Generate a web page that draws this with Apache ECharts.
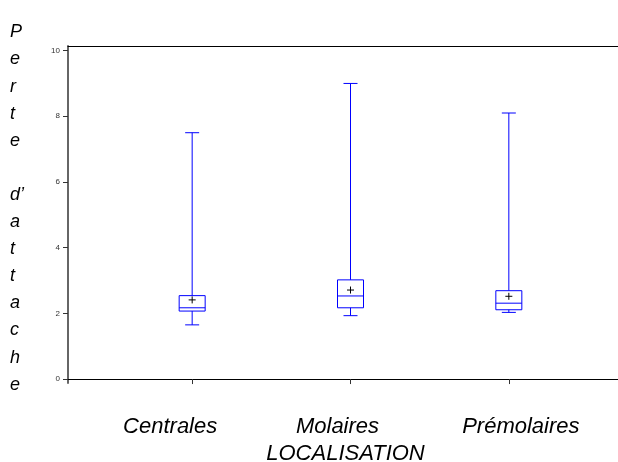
<!DOCTYPE html>
<html>
<head>
<meta charset="utf-8">
<script src="https://cdn.jsdelivr.net/npm/echarts@6/dist/echarts.min.js"></script>
<style>
  html, body { margin: 0; padding: 0; background: #fff; }
  #chart { width: 618px; height: 462px; }
</style>
</head>
<body>
<div id="chart"></div>
<script>
// box statistics, one value per localisation
var categories = ['Centrales', 'Molaires', 'Prémolaires'];
var lowWhisker = [1.65, 1.93, 2.03];
var q1 = [2.07, 2.17, 2.11];
var median = [2.17, 2.53, 2.31];
var q3 = [2.54, 3.02, 2.69];
var highWhisker = [7.5, 9.0, 8.1];
var means = [2.41, 2.71, 2.52];
var yTicks = [0, 2, 4, 6, 8, 10];

var boxData = [];
for (var i = 0; i < categories.length; i++) {
    boxData.push([i, lowWhisker[i], q1[i], median[i], q3[i], highWhisker[i], means[i]]);
}

var FONT = '"Liberation Sans", Arial, sans-serif';
var BLUE = '#0000ff';
// label shifts so the category names sit where the original put them
var labelPad = [[0, 44, 0, 0], [0, 26, 0, 0], [0, 0, 0, 24]];

function renderBox(params, api) {
    var idx = api.value(0);
    var x = api.coord([idx, api.value(3)])[0];
    var yLow = api.coord([idx, api.value(1)])[1];
    var yQ1 = api.coord([idx, api.value(2)])[1];
    var yMed = api.coord([idx, api.value(3)])[1];
    var yQ3 = api.coord([idx, api.value(4)])[1];
    var yHigh = api.coord([idx, api.value(5)])[1];
    var yMean = api.coord([idx, api.value(6)])[1];
    var hw = 13, cw = 7, pw = 3.5;
    var line = { stroke: BLUE, lineWidth: 1, fill: null };
    return {
        type: 'group',
        children: [
            { type: 'rect', shape: { x: x - hw, y: yQ3, width: hw * 2, height: yQ1 - yQ3 }, style: line },
            { type: 'line', shape: { x1: x - hw, y1: yMed, x2: x + hw, y2: yMed }, style: line },
            { type: 'line', shape: { x1: x, y1: yQ3, x2: x, y2: yHigh }, style: line },
            { type: 'line', shape: { x1: x, y1: yQ1, x2: x, y2: yLow }, style: line },
            { type: 'line', shape: { x1: x - cw, y1: yHigh, x2: x + cw, y2: yHigh }, style: line },
            { type: 'line', shape: { x1: x - cw, y1: yLow, x2: x + cw, y2: yLow }, style: line },
            { type: 'line', shape: { x1: x - pw, y1: yMean, x2: x + pw, y2: yMean }, style: { stroke: '#000', lineWidth: 1 } },
            { type: 'line', shape: { x1: x, y1: yMean - pw, x2: x, y2: yMean + pw }, style: { stroke: '#000', lineWidth: 1 } }
        ]
    };
}

var catText = { fontFamily: FONT, fontStyle: 'italic', fontSize: 22, color: '#000' };

var chart = echarts.init(document.getElementById('chart'));
var option = {
    animation: false,
    backgroundColor: '#fff',
    grid: [
        { left: 68, right: 0, top: 46, bottom: 79, containLabel: false, outerBoundsMode: 'none' },
        { left: 113, right: 30, top: 46, bottom: 79, containLabel: false, outerBoundsMode: 'none' }
    ],
    xAxis: [
        {
            gridIndex: 0, type: 'value', min: 0, max: 1, position: 'bottom',
            axisLine: { show: true, lineStyle: { color: '#000', width: 1 } },
            axisTick: { show: false }, axisLabel: { show: false }, splitLine: { show: false }
        },
        {
            gridIndex: 0, type: 'value', min: 0, max: 1, position: 'top',
            axisLine: { show: true, lineStyle: { color: '#000', width: 1 } },
            axisTick: { show: false }, axisLabel: { show: false }, splitLine: { show: false }
        },
        {
            gridIndex: 1, type: 'category', data: categories, position: 'bottom',
            axisLine: { show: false },
            axisTick: { show: true, interval: 0, alignWithLabel: true, length: 5, lineStyle: { color: '#333' } },
            axisLabel: {
                interval: 0, hideOverlap: false, margin: 33,
                fontFamily: FONT, fontStyle: 'italic', fontSize: 22, color: '#000',
                formatter: function (v, i) { return '{c' + i + '|' + v + '}'; },
                rich: {
                    c0: Object.assign({ padding: labelPad[0] }, catText),
                    c1: Object.assign({ padding: labelPad[1] }, catText),
                    c2: Object.assign({ padding: labelPad[2] }, catText)
                }
            },
            name: 'LOCALISATION', nameLocation: 'middle', nameGap: 59,
            nameTextStyle: Object.assign({ padding: [0, 10, 0, 0] }, catText)
        }
    ],
    yAxis: [
        {
            gridIndex: 0, type: 'value', min: -0.12, max: 10.14,
            axisLine: { show: true, lineStyle: { color: '#666', width: 2 } },
            axisTick: { show: true, length: 5, customValues: yTicks, lineStyle: { color: '#333' } },
            axisLabel: { customValues: yTicks, margin: 8, fontFamily: FONT, fontSize: 8, color: '#333' },
            splitLine: { show: false },
            name: 'P\ne\nr\nt\ne\n\nd’\na\nt\nt\na\nc\nh\ne\n{s| }',
            nameLocation: 'middle', nameRotate: 0, nameGap: 58,
            nameTextStyle: {
                fontFamily: FONT, fontStyle: 'italic', fontSize: 18, color: '#000',
                lineHeight: 27.1, align: 'left', verticalAlign: 'middle',
                rich: { s: { fontSize: 10, lineHeight: 12 } }
            }
        },
        {
            gridIndex: 1, type: 'value', min: -0.12, max: 10.14, show: false,
            splitLine: { show: false }
        }
    ],
    series: [{
        type: 'custom',
        xAxisIndex: 2,
        yAxisIndex: 1,
        renderItem: renderBox,
        encode: { x: 0, y: [1, 2, 3, 4, 5, 6] },
        data: boxData
    }]
};
chart.setOption(option);
</script>
</body>
</html>
